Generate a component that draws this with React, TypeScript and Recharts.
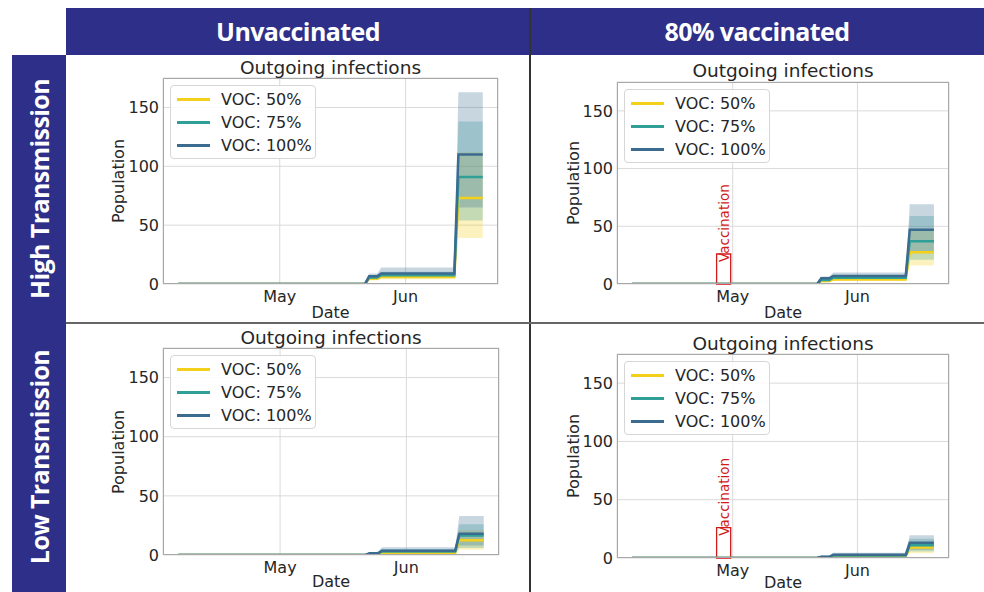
import React from 'react'
import { ComposedChart, Line, Area, XAxis, YAxis, CartesianGrid, ReferenceArea, Legend } from 'recharts'

// days counted from Apr 6; breakpoints of the step-like curves
const days = [0, 46, 47, 49, 50, 68, 69, 75]
const monthTicks = [25, 56]
const monthLabels = ['May', 'Jun']
const yTicks = [0, 50, 100, 150]
const vocLabels = ['VOC: 50%', 'VOC: 75%', 'VOC: 100%']
const vocColors = ['#f3d01c', '#2f9f98', '#3b6b8e']
const columnTitles = ['Unvaccinated', '80% vaccinated']
const rowTitles = ['High Transmission', 'Low Transmission']
const vaccinationDays = [21, 24.5]
const vaccinationTop = 26

// high transmission, unvaccinated
const hiUnvMid50 = [0, 0, 4.5, 4.5, 6, 6, 73, 73]
const hiUnvMid75 = [0, 0, 5.5, 5.5, 7.5, 7.5, 91, 91]
const hiUnvMid100 = [0, 0, 6.5, 6.5, 9, 9, 110, 110]
const hiUnvLow50 = [0, 0, 3, 3, 4, 4, 39, 39]
const hiUnvLow75 = [0, 0, 3.5, 3.5, 5, 5, 54, 54]
const hiUnvLow100 = [0, 0, 4, 4, 6, 6, 65, 65]
const hiUnvHigh50 = [0, 0, 6, 6, 8, 8, 112, 112]
const hiUnvHigh75 = [0, 0, 7.5, 7.5, 10.5, 10.5, 138, 138]
const hiUnvHigh100 = [0, 0, 9, 9, 14, 14, 163, 163]

// high transmission, 80% vaccinated
const hiVacMid50 = [0, 0, 2.5, 2.5, 4, 4, 27.5, 27.5]
const hiVacMid75 = [0, 0, 3.5, 3.5, 5.5, 5.5, 37, 37]
const hiVacMid100 = [0, 0, 5, 5, 7, 7, 47, 47]
const hiVacLow50 = [0, 0, 1.5, 1.5, 2.5, 2.5, 16, 16]
const hiVacLow75 = [0, 0, 2, 2, 3.5, 3.5, 21, 21]
const hiVacLow100 = [0, 0, 3, 3, 5, 5, 28, 28]
const hiVacHigh50 = [0, 0, 4, 4, 5.5, 5.5, 48, 48]
const hiVacHigh75 = [0, 0, 5, 5, 7.5, 7.5, 59, 59]
const hiVacHigh100 = [0, 0, 6.5, 6.5, 10, 10, 69, 69]

// low transmission, unvaccinated
const loUnvMid50 = [0, 0, 0.8, 0.8, 2, 2, 12.5, 12.5]
const loUnvMid75 = [0, 0, 1.2, 1.2, 3, 3, 16.5, 16.5]
const loUnvMid100 = [0, 0, 1.5, 1.5, 3.5, 3.5, 18, 18]
const loUnvLow50 = [0, 0, 0.3, 0.3, 0.8, 0.8, 4.5, 4.5]
const loUnvLow75 = [0, 0, 0.5, 0.5, 1.5, 1.5, 6, 6]
const loUnvLow100 = [0, 0, 0.8, 0.8, 2, 2, 8, 8]
const loUnvHigh50 = [0, 0, 1.5, 1.5, 3.5, 3.5, 21, 21]
const loUnvHigh75 = [0, 0, 2, 2, 5, 5, 26, 26]
const loUnvHigh100 = [0, 0, 2.5, 2.5, 6.5, 6.5, 33, 33]

// low transmission, 80% vaccinated
const loVacMid50 = [0, 0, 0.5, 0.5, 1.5, 1.5, 9, 9]
const loVacMid75 = [0, 0, 0.8, 0.8, 2.2, 2.2, 11, 11]
const loVacMid100 = [0, 0, 1, 1, 2.8, 2.8, 13, 13]
const loVacLow50 = [0, 0, 0.2, 0.2, 0.6, 0.6, 4, 4]
const loVacLow75 = [0, 0, 0.3, 0.3, 1, 1, 5.5, 5.5]
const loVacLow100 = [0, 0, 0.5, 0.5, 1.5, 1.5, 7, 7]
const loVacHigh50 = [0, 0, 1, 1, 2.5, 2.5, 13.5, 13.5]
const loVacHigh75 = [0, 0, 1.3, 1.3, 3.5, 3.5, 16.5, 16.5]
const loVacHigh100 = [0, 0, 1.8, 1.8, 4.5, 4.5, 19.5, 19.5]

const FONT = '"DejaVu Sans", sans-serif'
const TEXT = '#262626'
const NAVY = '#2e2f88'
const AXIS_W = 60
const AXIS_H = 30
const PAD = 4

function buildRows(mid: number[][], low: number[][], high: number[][]) {
  return days.map((d, i) => ({
    day: d,
    m0: mid[0][i],
    m1: mid[1][i],
    m2: mid[2][i],
    b0: [low[0][i], high[0][i]],
    b1: [low[1][i], high[1][i]],
    b2: [low[2][i], high[2][i]],
  }))
}

const panels = [
  {
    key: 'hu',
    plot: { x: 163, y: 78, w: 335, h: 206 },
    titleY: 67.5, popX: 118, dateY: 313,
    vaccinated: false,
    rows: buildRows([hiUnvMid50, hiUnvMid75, hiUnvMid100], [hiUnvLow50, hiUnvLow75, hiUnvLow100], [hiUnvHigh50, hiUnvHigh75, hiUnvHigh100]),
  },
  {
    key: 'hv',
    plot: { x: 617, y: 82, w: 332, h: 202 },
    titleY: 71, popX: 573, dateY: 313,
    vaccinated: true,
    rows: buildRows([hiVacMid50, hiVacMid75, hiVacMid100], [hiVacLow50, hiVacLow75, hiVacLow100], [hiVacHigh50, hiVacHigh75, hiVacHigh100]),
  },
  {
    key: 'lu',
    plot: { x: 163, y: 348, w: 336, h: 207 },
    titleY: 338, popX: 118, dateY: 582,
    vaccinated: false,
    rows: buildRows([loUnvMid50, loUnvMid75, loUnvMid100], [loUnvLow50, loUnvLow75, loUnvLow100], [loUnvHigh50, loUnvHigh75, loUnvHigh100]),
  },
  {
    key: 'lv',
    plot: { x: 617, y: 354, w: 332, h: 204 },
    titleY: 344, popX: 573, dateY: 583,
    vaccinated: true,
    rows: buildRows([loVacMid50, loVacMid75, loVacMid100], [loVacLow50, loVacLow75, loVacLow100], [loVacHigh50, loVacHigh75, loVacHigh100]),
  },
]

function VocLegend() {
  return (
    <div style={{ width: 146, height: 74, paddingTop: 2, border: '1px solid #d6d6d6', borderRadius: 4, background: 'rgba(255,255,255,0.85)', boxSizing: 'border-box' }}>
      {vocLabels.map((label, i) => (
        <div key={label} style={{ display: 'flex', alignItems: 'center', height: 23 }}>
          <div style={{ width: 33, height: 3, marginLeft: 6, marginRight: 11, background: vocColors[i] }} />
          <span style={{ fontFamily: FONT, fontSize: 16, color: TEXT, lineHeight: '18px' }}>{label}</span>
        </div>
      ))}
    </div>
  )
}

function VaxLabel(props: any) {
  const vb = props.viewBox || {}
  const cx = vb.x + vb.width / 2
  const y0 = vb.y + 8
  return (
    <text x={cx} y={y0} transform={`rotate(-90, ${cx}, ${y0})`} textAnchor="start" dominantBaseline="central" fill="#d11a1a" fontSize={13.5} fontFamily={FONT}>
      Vaccination
    </text>
  )
}

function Panel({ p }: { p: (typeof panels)[number] }) {
  const { plot } = p
  const tickStyle = { fill: TEXT, fontSize: 16, fontFamily: FONT }
  return (
    <>
      <div style={{ position: 'absolute', left: plot.x - AXIS_W, top: plot.y - PAD }}>
        <ComposedChart
          width={plot.w + AXIS_W + PAD}
          height={plot.h + PAD + AXIS_H}
          data={p.rows}
          margin={{ top: PAD, right: PAD, left: 0, bottom: 0 }}
        >
          <CartesianGrid stroke="#dadada" strokeWidth={1} />
          <XAxis
            type="number"
            dataKey="day"
            domain={[-3.75, 78.75]}
            ticks={monthTicks}
            tickFormatter={(v: number) => monthLabels[monthTicks.indexOf(v)]}
            tickSize={0}
            tickMargin={7}
            axisLine={false}
            height={AXIS_H}
            tick={tickStyle}
            allowDataOverflow
          />
          <YAxis
            type="number"
            domain={[0, 175]}
            ticks={yTicks}
            width={AXIS_W}
            tickSize={0}
            tickMargin={4}
            axisLine={false}
            tick={tickStyle}
            allowDataOverflow
          />
          {[0, 1, 2].map((i) => (
            <Area
              key={`b${i}`}
              dataKey={`b${i}`}
              type="linear"
              fill={vocColors[i]}
              fillOpacity={0.28}
              stroke="none"
              dot={false}
              activeDot={false}
              legendType="none"
              isAnimationActive={false}
            />
          ))}
          {[0, 1, 2].map((i) => (
            <Line
              key={`m${i}`}
              dataKey={`m${i}`}
              type="linear"
              stroke={vocColors[i]}
              strokeWidth={2.5}
              dot={false}
              activeDot={false}
              isAnimationActive={false}
            />
          ))}
          {p.vaccinated && (
            <ReferenceArea
              x1={vaccinationDays[0]}
              x2={vaccinationDays[1]}
              y1={0}
              y2={vaccinationTop}
              fill="none"
              stroke="#d11a1a"
              strokeWidth={1.3}
              ifOverflow="visible"
              label={(props: any) => <VaxLabel {...props} />}
            />
          )}
          <Legend
            layout="vertical"
            align="center"
            verticalAlign="middle"
            content={() => <VocLegend />}
            wrapperStyle={{ left: AXIS_W + 7, top: PAD + 7, width: 146, height: 74 }}
          />
        </ComposedChart>
      </div>
      <div style={{ position: 'absolute', left: plot.x, top: plot.y, width: plot.w, height: plot.h, border: '1px solid #a8a8a8', boxSizing: 'border-box', pointerEvents: 'none' }} />
      <div style={{ position: 'absolute', left: plot.x, width: plot.w, top: p.titleY - 11, textAlign: 'center', fontFamily: FONT, fontSize: 18.5, lineHeight: '22px', color: TEXT }}>
        Outgoing infections
      </div>
      <div style={{ position: 'absolute', left: p.popX, top: plot.y + plot.h / 2, transform: 'translate(-50%, -50%) rotate(-90deg)', fontFamily: FONT, fontSize: 16, color: TEXT, whiteSpace: 'nowrap' }}>
        Population
      </div>
      <div style={{ position: 'absolute', left: plot.x + plot.w / 2, top: p.dateY, transform: 'translate(-50%, -50%)', fontFamily: FONT, fontSize: 16, lineHeight: '18px', color: TEXT, whiteSpace: 'nowrap' }}>
        Date
      </div>
    </>
  )
}

const headStyle: React.CSSProperties = {
  fontFamily: '"Open Sans", sans-serif',
  fontWeight: 700,
  fontSize: 25,
  letterSpacing: -0.6,
  color: '#fff',
  whiteSpace: 'nowrap',
}

export default function App() {
  return (
    <div style={{ position: 'absolute', left: 0, top: 0, width: 984, height: 592, overflow: 'hidden', background: '#fff' }}>
      <div style={{ position: 'absolute', left: 66, top: 8, width: 918, height: 47, background: NAVY }} />
      {columnTitles.map((t, i) => (
        <div key={t} style={{ ...headStyle, position: 'absolute', left: i === 0 ? 66 : 530, width: i === 0 ? 464 : 454, top: 8, height: 47, lineHeight: '47px', textAlign: 'center' }}>
          {t}
        </div>
      ))}
      <div style={{ position: 'absolute', left: 12, top: 55, width: 54, height: 537, background: NAVY }} />
      {rowTitles.map((t, i) => (
        <div key={t} style={{ ...headStyle, position: 'absolute', left: 39, top: i === 0 ? 189 : 457, transform: 'translate(-50%, -50%) rotate(-90deg)' }}>
          {t}
        </div>
      ))}
      <div style={{ position: 'absolute', left: 529, top: 8, width: 2, height: 584, background: '#333' }} />
      <div style={{ position: 'absolute', left: 66, top: 322, width: 918, height: 2, background: '#666' }} />
      {panels.map((p) => (
        <Panel key={p.key} p={p} />
      ))}
    </div>
  )
}
